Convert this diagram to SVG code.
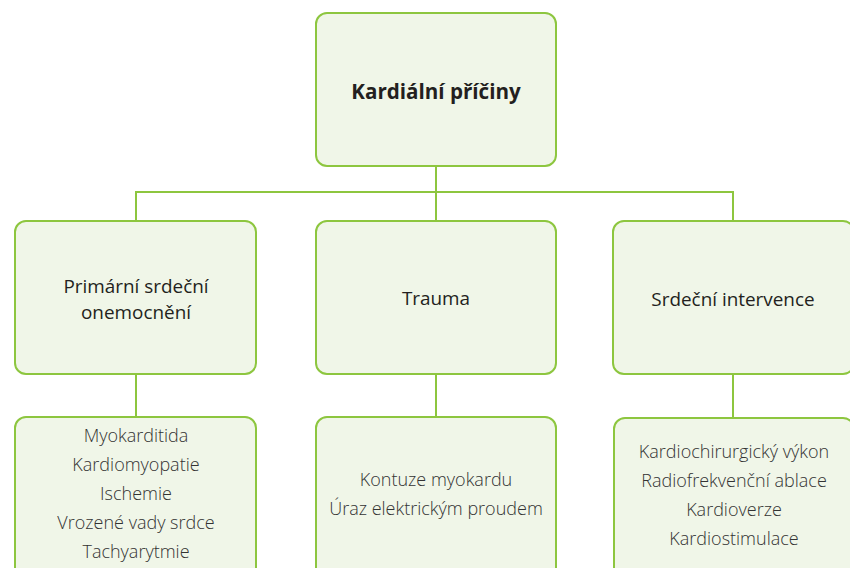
<svg xmlns="http://www.w3.org/2000/svg" width="850" height="568" viewBox="0 0 850 568">
<style>
.box{fill:#f0f6e8;stroke:#8dc63f;stroke-width:2}
.con line{stroke:#8dc63f;stroke-width:2}
text{font-family:"Open Sans","Noto Sans",sans-serif;fill:#231f20;text-anchor:middle}
.t{font-size:20.6px;font-weight:bold}
.m{font-size:18.9px}
.l{font-size:18px;font-weight:300;fill:#333}
</style>
<rect width="850" height="568" fill="#fff"/>
<g class="con" id="connectors">
<line x1="436" y1="166" x2="436" y2="221"/>
<line x1="135" y1="192" x2="734" y2="192"/>
<line x1="136" y1="191" x2="136" y2="221"/>
<line x1="733" y1="191" x2="733" y2="221"/>
<line x1="136" y1="374" x2="136" y2="417"/>
<line x1="436" y1="374" x2="436" y2="417"/>
<line x1="733" y1="374" x2="733" y2="418"/>
</g>
<g id="root"><rect class="box" x="316" y="13" width="240" height="153" rx="11"/>
<text class="t" x="436" y="99">Kardiální příčiny</text></g>
<g id="primarni"><rect class="box" x="15" y="221" width="241" height="153" rx="11"/>
<text class="m" x="136" y="293">Primární srdeční</text><text class="m" x="136" y="319">onemocnění</text></g>
<g id="trauma"><rect class="box" x="316" y="221" width="240" height="153" rx="11"/>
<text class="m" x="436" y="305">Trauma</text></g>
<g id="intervence"><rect class="box" x="613" y="221" width="241" height="153" rx="11"/>
<text class="m" x="733" y="306">Srdeční intervence</text></g>
<g id="primarni-list"><rect class="box" x="15" y="417" width="241" height="170" rx="11"/>
<text class="l" x="136" y="442">Myokarditida</text>
<text class="l" x="136" y="471">Kardiomyopatie</text>
<text class="l" x="136" y="500">Ischemie</text>
<text class="l" x="136" y="529">Vrozené vady srdce</text>
<text class="l" x="136" y="558">Tachyarytmie</text></g>
<g id="trauma-list"><rect class="box" x="316" y="417" width="240" height="170" rx="11"/>
<text class="l" x="436" y="486">Kontuze myokardu</text>
<text class="l" x="436" y="515">Úraz elektrickým proudem</text></g>
<g id="intervence-list"><rect class="box" x="614" y="418" width="240" height="170" rx="11"/>
<text class="l" x="734" y="458">Kardiochirurgický výkon</text>
<text class="l" x="734" y="487">Radiofrekvenční ablace</text>
<text class="l" x="734" y="516">Kardioverze</text>
<text class="l" x="734" y="545">Kardiostimulace</text></g>
</svg>
